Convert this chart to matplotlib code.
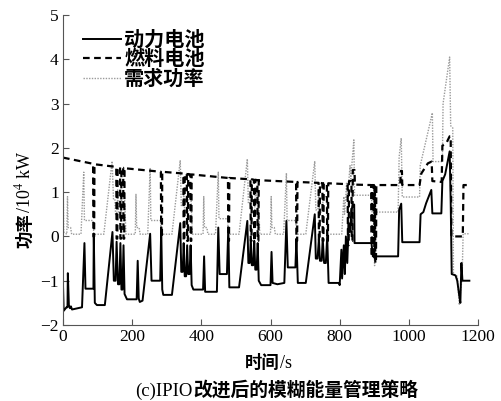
import matplotlib
matplotlib.use("Agg")
import matplotlib.pyplot as plt
from matplotlib.lines import Line2D
from matplotlib.font_manager import FontProperties

plt.rcParams['font.family'] = ['Liberation Serif', 'Noto Sans CJK SC']
plt.rcParams['mathtext.fontset'] = 'stix'

# 需求功率 (dotted grey), time in s, power in 10^4 kW
t_dem = [0, 1, 2, 11, 13, 15, 22, 25, 52, 60, 62, 87, 89, 118, 142, 146, 150, 152, 156, 158, 161, 168, 170, 178, 182,
         209, 211, 213, 220, 223, 245, 252, 254, 282, 284, 315, 339, 342, 347, 349, 352, 360, 362, 370, 374,
         405, 407, 409, 416, 419, 441, 449, 451, 476, 478, 509, 533, 536, 541, 543, 546, 554, 556, 565, 569,
         600, 602, 604, 611, 614, 638, 646, 648, 673, 675, 702, 728, 731, 737, 739, 742, 750, 752, 762, 766,
         806, 812, 814, 820, 822, 830, 832, 841, 843, 892, 894, 899, 901, 903, 969, 972, 978, 981,
         1031, 1033, 1068, 1070, 1097, 1099, 1118, 1121, 1127, 1129, 1140, 1146, 1150, 1154, 1157, 1175]
p_dem = [0.4, 0.85, 0.1, 0.05, 0.9, 0.2, 0.2, 0.05, 0.05, 1.45, 0.36, 0.36, 0.05, 0.05, 1.7, 0.85, 0.85, 0.5, 0.55, 1.05, 0.55, 0.55, 0.9, 0.9, 0.05,
         0.05, 0.95, 0.2, 0.2, 0.05, 0.05, 1.55, 0.36, 0.36, 0.05, 0.05, 1.72, 0.7, 0.7, 1.0, 0.55, 0.55, 0.95, 0.9, 0.05,
         0.05, 0.9, 0.2, 0.2, 0.05, 0.05, 1.45, 0.4, 0.4, 0.05, 0.05, 1.75, 0.75, 0.75, 1.0, 0.55, 0.55, 0.95, 0.9, 0.05,
         0.05, 0.9, 0.2, 0.2, 0.05, 0.05, 1.43, 0.36, 0.36, 0.05, 0.05, 1.7, 0.6, 0.6, 0.95, 0.55, 0.55, 0.9, 0.9, 0.05,
         0.05, 0.9, 0.5, 1.2, 0.8, 1.6, 1.3, 2.18, 0.93, 0.93, 0.55, 0.55, -0.66, 0.55, 0.55, 1.8, 2.22, 0.89,
         0.89, 1.6, 2.79, 1.69, 1.69, 3.0, 4.05, 2.5, 2.45, -0.85, -0.9, -1.55, -1.2, -0.95, 0.06, 0.06]

# 燃料电池 (dashed)
t_fc = [0, 87, 88, 90, 91, 154, 155, 157, 158, 165, 166, 168, 169, 174, 175, 177, 178,
        283, 284, 286, 287, 348, 349, 351, 352, 358, 359, 361, 362, 368, 369, 371, 372,
        477, 478, 480, 481, 542, 543, 545, 546, 552, 553, 555, 556, 562, 563, 565, 566,
        674, 675, 677, 678, 739, 740, 742, 743, 750, 751, 753, 754, 763, 764, 766, 767,
        823, 824, 826, 827, 834, 835, 837, 838, 843, 844, 891, 892, 894, 895, 897, 898, 900, 901, 902, 903, 905, 906,
        975, 977, 980, 981, 1031, 1036, 1055, 1066, 1068, 1095, 1097, 1108, 1118, 1121, 1123, 1156, 1158, 1175]
p_fc = [1.78, 1.64, 0.0, 0.0, 1.63, 1.57, -0.05, -0.05, 1.56, 1.56, -0.05, -0.05, 1.55, 1.55, -0.05, -0.05, 1.54,
        1.46, 0.0, 0.0, 1.46, 1.42, -0.1, -0.1, 1.42, 1.41, -0.1, -0.1, 1.41, 1.40, -0.1, -0.1, 1.40,
        1.32, -0.1, -0.1, 1.32, 1.29, -0.1, -0.1, 1.29, 1.28, -0.1, -0.1, 1.28, 1.27, -0.1, -0.1, 1.27,
        1.23, -0.1, -0.1, 1.23, 1.21, -0.1, -0.1, 1.21, 1.2, -0.1, -0.1, 1.2, 1.2, -0.1, -0.1, 1.2,
        1.18, -0.2, -0.2, 1.25, 1.25, -0.1, -0.1, 1.5, 1.5, 1.17, 1.16, -0.45, -0.45, 1.16, 1.16, -0.5, -0.5, 1.16, 1.16, -0.6, -0.6, 1.16,
        1.16, 1.48, 1.48, 1.16, 1.16, 1.42, 1.65, 1.69, 1.25, 1.23, 2.05, 2.1, 2.26, 2.26, 0.0, 0.0, 1.16, 1.16]

# 动力电池 (solid)
t_bat = [0, 2, 10, 13, 14, 17, 20, 23, 26, 55, 62, 65, 88, 89, 92, 98, 121, 143, 147, 152, 155, 159, 163, 166, 169, 172, 175, 178, 185,
         213, 216, 219, 222, 230, 252, 256, 281, 284, 287, 290, 315, 339, 342, 346, 349, 352, 356, 359, 362, 366, 369, 372, 377,
         405, 408, 411, 416, 445, 449, 453, 474, 478, 481, 509, 533, 536, 540, 543, 546, 550, 553, 556, 560, 563, 566, 573,
         600, 603, 606, 620, 640, 646, 650, 672, 675, 679, 702, 728, 731, 736, 740, 743, 748, 751, 755, 760, 764, 768,
         798, 800, 805, 807, 812, 815, 818, 822, 826, 830, 834, 838, 842, 843, 892, 896, 969, 972, 978, 981,
         1031, 1034, 1042, 1050, 1065, 1068, 1094, 1097, 1105, 1118, 1121, 1124, 1135, 1140, 1146, 1149, 1152, 1155, 1175]
p_bat = [-1.1, -1.68, -1.6, -1.6, -0.83, -1.55, -1.62, -1.58, -1.65, -1.6, -0.15, -1.18, -1.18, 0.06, -1.5, -1.55, -1.55, 0.1, -1.0, -1.0, -0.12, -1.08, -1.08, -0.15, -1.2, -1.2, -0.2, -1.3, -1.42,
         -1.42, -0.55, -1.4, -1.48, -1.45, 0.06, -1.0, -1.0, 0.2, -1.2, -1.32, -1.32, 0.3, -0.8, -0.8, -0.15, -0.9, -0.9, -0.2, -0.85, -0.85, -0.2, -1.1, -1.2,
         -1.2, -0.45, -1.25, -1.25, -1.25, 0.2, -0.85, -0.85, 0.2, -1.15, -1.15, 0.35, -0.6, -0.6, -0.05, -0.65, -0.65, -0.1, -0.75, -0.75, -0.15, -1.0, -1.1,
         -1.1, -0.35, -1.05, -1.08, -1.05, 0.35, -0.7, -0.7, -0.05, -1.05, -1.05, 0.5, -0.5, -0.5, -0.05, -0.55, -0.55, -0.05, -0.6, -0.6, 0.0, -1.05,
         -1.05, -1.1, -0.3, -0.95, -0.2, -0.85, 0.0, -0.6, 0.3, 0.1, 0.6, 0.7, 0.72, -0.15, -0.15, -0.45, -0.45, 0.6, 0.74, -0.13,
         -0.13, 0.5, 0.55, 0.75, 1.05, 0.52, 0.52, 1.25, 1.4, 1.92, 0.8, -0.85, -0.88, -1.0, -1.35, -1.5, -0.6, -1.0, -1.0]

W, H = 502, 401
fig = plt.figure(figsize=(W / 100, H / 100), dpi=100)
ax = fig.add_axes([63 / W, 1 - 325 / H, 415 / W, 310 / H])

ax.plot(t_dem, p_dem, color='#9a9a9a', lw=1.0, ls=(0, (1, 1)))
ax.plot(t_fc, p_fc, color='black', lw=1.6, ls=(0, (3, 2)))
ax.plot(t_bat, p_bat, color='black', lw=1.4)

ax.set_xlim(0, 1200)
ax.set_ylim(-2, 5)
ax.set_xticks(range(0, 1201, 200))
ax.set_yticks(range(-2, 6))
for s in ['top', 'right']:
    ax.spines[s].set_visible(False)
for s in ['left', 'bottom']:
    ax.spines[s].set_color('#555555')
ax.tick_params(direction='in', length=4, color='#555555', labelsize=12.5, pad=3)

handles = [Line2D([], [], color='black', lw=1.4),
           Line2D([], [], color='black', lw=1.6, ls=(0, (3, 2))),
           Line2D([], [], color='#9a9a9a', lw=1.0, ls=(0, (1, 1)))]
leg = ax.legend(handles, ['动力电池', '燃料电池', '需求功率'], loc='upper left',
                bbox_to_anchor=(20 / 415, 1 - 14 / 310), frameon=False,
                prop=FontProperties(family='Noto Sans CJK SC', weight='bold', size=14.5),
                handlelength=1.9, handletextpad=0.15, labelspacing=-0.08,
                borderpad=0, borderaxespad=0)

cjk_b = dict(family='Noto Sans CJK SC', weight='bold')
# x label
fig.text(280 / W, 1 - 368 / H, '时间', ha='right', va='baseline', fontsize=12.5, **cjk_b)
fig.text(280 / W, 1 - 368 / H, '/s', ha='left', va='baseline', fontsize=13, family='Liberation Serif')
# title
fig.text(193 / W, 1 - 396 / H, '(c)IPIO', ha='right', va='baseline', fontsize=13.5, family='Liberation Serif')
fig.text(193 / W, 1 - 396 / H, '改进后的模糊能量管理策略', ha='left', va='baseline', fontsize=13.5, **cjk_b)
# y label
fig.text(30 / W, 1 - 213 / H, '功率', ha='right', va='baseline', rotation=90,
         rotation_mode='anchor', fontsize=12.5, **cjk_b)
fig.text(30 / W, 1 - 213 / H, '/10$^4$ kW', ha='left', va='baseline', rotation=90,
         rotation_mode='anchor', fontsize=13, family='Liberation Serif')

fig.savefig('out.png', dpi=100)
